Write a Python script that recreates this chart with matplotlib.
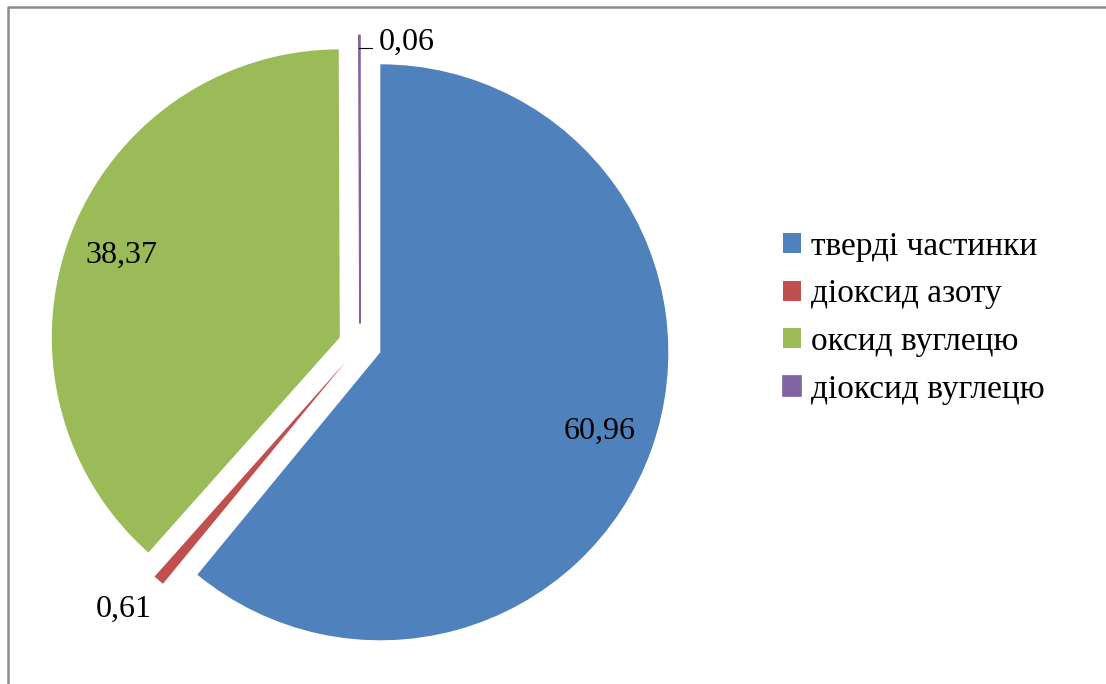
import numpy as np
import matplotlib.pyplot as plt
from matplotlib.lines import Line2D

plt.rcParams['font.family'] = ['Liberation Serif', 'DejaVu Serif']

labels = ['тверді частинки', 'діоксид азоту', 'оксид вуглецю', 'діоксид вуглецю']
values = [60.96, 0.61, 38.37, 0.06]
value_text = ['60,96', '0,61', '38,37', '0,06']
colors = ['#4F81BD', '#C0504D', '#9BBB59', '#8064A2']

W, H = 1106, 684
fig = plt.figure(figsize=(W / 100, H / 100), dpi=100)

# pie centre at (360, 345) px, radius 288 px
cx, cy, r_px, half = 360, 345, 288, 330
ax = fig.add_axes([(cx - half) / W, (H - cy - half) / H, 2 * half / W, 2 * half / H])
lim = half / r_px

wedges, _ = ax.pie(values, colors=colors, startangle=90, counterclock=False,
                   explode=[0.075] * 4, radius=1,
                   wedgeprops=dict(linewidth=0))
# the tiny slice needs an outline to show at all
wedges[3].set_edgecolor(colors[3])
wedges[3].set_linewidth(1.2)
ax.set_xlim(-lim, lim)
ax.set_ylim(-lim, lim)
ax.set_aspect('equal')
ax.axis('off')

fs = 23
for i, w in enumerate(wedges):
    mid = np.deg2rad((w.theta1 + w.theta2) / 2)
    x0, y0 = w.center
    if i in (0, 2):
        d = 0.81
        ax.text(x0 + d * np.cos(mid), y0 + d * np.sin(mid), value_text[i],
                ha='center', va='center', fontsize=fs)
    elif i == 1:
        d = 1.23
        a = mid - np.deg2rad(1.3)
        ax.text(d * np.cos(a), d * np.sin(a), value_text[i],
                ha='center', va='center', fontsize=fs)
    else:
        xe = x0 + np.cos(mid)
        ax.plot([xe, xe + 0.045], [1.03, 1.03], color='black', lw=0.8)
        ax.text(xe + 0.068, 1.05, value_text[i], ha='left', va='center', fontsize=fs)

fig.legend(wedges, labels, loc='center left',
           bbox_to_anchor=(783 / W, 1 - 318 / H), frameon=False,
           fontsize=24, handlelength=0.55, handleheight=0.55,
           handletextpad=0.3, labelspacing=0.52, borderpad=0, borderaxespad=0)

# chart border (top and left edges)
fig.add_artist(Line2D([7.5 / W, 7.5 / W, 1.0], [0.0, 1 - 6.5 / H, 1 - 6.5 / H],
                      transform=fig.transFigure, color='#8c8c8c', lw=1.8))

fig.savefig('out.png', dpi=100)
